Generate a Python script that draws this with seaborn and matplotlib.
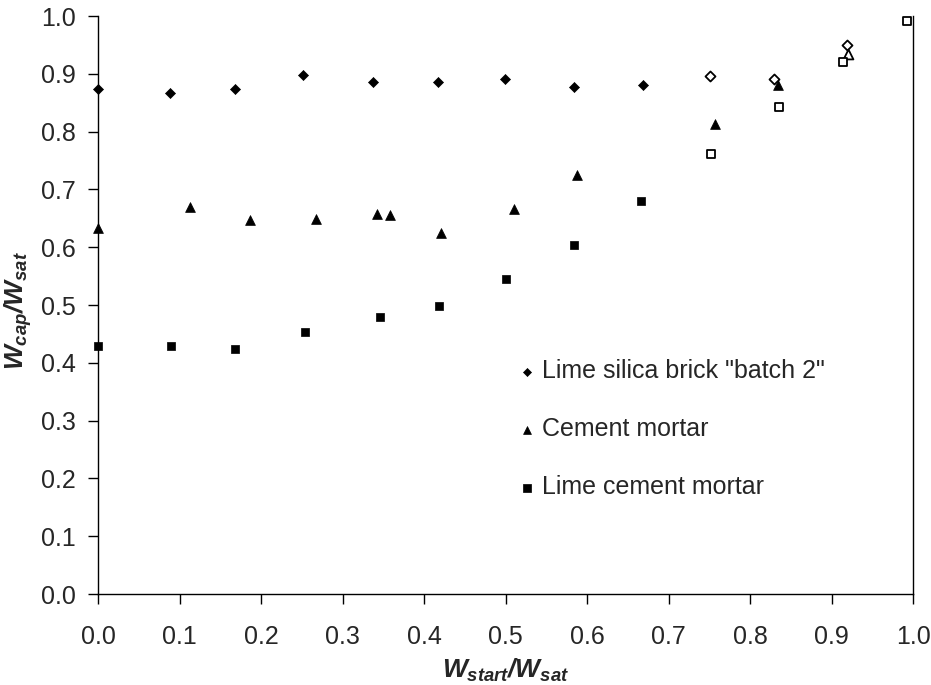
import matplotlib
matplotlib.use("Agg")
import matplotlib.pyplot as plt
import seaborn as sns
import pandas as pd

sns.set_style("ticks")
plt.rcParams["font.family"] = ["Liberation Sans", "DejaVu Sans"]
plt.rcParams["mathtext.fontset"] = "custom"
plt.rcParams["mathtext.rm"] = "Liberation Sans:bold:italic"
plt.rcParams["mathtext.it"] = "Liberation Sans:bold:italic"
plt.rcParams["mathtext.bf"] = "Liberation Sans:bold:italic"

lsb_label = 'Lime silica brick "batch 2"'
cm_label = "Cement mortar"
lcm_label = "Lime cement mortar"

# filled points
x_lsb = [0.000, 0.088, 0.168, 0.251, 0.337, 0.417, 0.499, 0.584, 0.669]
y_lsb = [0.873, 0.867, 0.873, 0.898, 0.885, 0.885, 0.891, 0.878, 0.881]
x_cm = [0.000, 0.113, 0.186, 0.267, 0.342, 0.358, 0.421, 0.510, 0.588, 0.757, 0.834]
y_cm = [0.633, 0.669, 0.647, 0.649, 0.657, 0.655, 0.625, 0.666, 0.725, 0.813, 0.881]
x_lcm = [0.000, 0.089, 0.168, 0.254, 0.346, 0.418, 0.501, 0.584, 0.666]
y_lcm = [0.429, 0.429, 0.424, 0.454, 0.479, 0.498, 0.545, 0.604, 0.680]

# open points
x_lsb_open = [0.751, 0.829, 0.919]
y_lsb_open = [0.896, 0.891, 0.950]
x_cm_open = [0.920]
y_cm_open = [0.935]
x_lcm_open = [0.752, 0.836, 0.914, 0.993]
y_lcm_open = [0.762, 0.842, 0.920, 0.992]

x_ticks = [0.0, 0.1, 0.2, 0.3, 0.4, 0.5, 0.6, 0.7, 0.8, 0.9, 1.0]
y_ticks = [0.0, 0.1, 0.2, 0.3, 0.4, 0.5, 0.6, 0.7, 0.8, 0.9, 1.0]

series = [
    (lsb_label, x_lsb, y_lsb, x_lsb_open, y_lsb_open, "D", 26),
    (cm_label, x_cm, y_cm, x_cm_open, y_cm_open, "^", 50),
    (lcm_label, x_lcm, y_lcm, x_lcm_open, y_lcm_open, "s", 40),
]

fig = plt.figure(figsize=(9.31, 6.85), dpi=100)
ax = fig.add_axes([0.1053, 0.1328, 0.8754, 0.8438])

for label, xf, yf, xo, yo, mk, sz in series:
    df = pd.DataFrame({"x": xf, "y": yf})
    sns.scatterplot(data=df, x="x", y="y", marker=mk, s=sz, color="black",
                    edgecolor="black", linewidth=0.5, label=label, ax=ax,
                    clip_on=False, zorder=3)
    dfo = pd.DataFrame({"x": xo, "y": yo})
    sns.scatterplot(data=dfo, x="x", y="y", marker=mk, s=sz, facecolor="white",
                    edgecolor="black", linewidth=1.3, ax=ax, clip_on=False,
                    zorder=3, legend=False)

ax.set_xlim(0, 1)
ax.set_ylim(0, 1)
ax.set_xticks(x_ticks)
ax.set_yticks(y_ticks)
ax.set_xticklabels([f"{t:.1f}" for t in x_ticks])
ax.set_yticklabels([f"{t:.1f}" for t in y_ticks])
ax.tick_params(axis="both", labelsize=18, length=7, width=1, color="black",
               direction="out")
ax.tick_params(axis="x", pad=15)
ax.tick_params(axis="y", pad=9)

ax.spines["top"].set_visible(False)
for side in ["left", "bottom", "right"]:
    ax.spines[side].set_color("black")
    ax.spines[side].set_linewidth(1)

ax.set_xlabel(r"$W_{start}/W_{sat}$", fontsize=19)
ax.set_ylabel(r"$W_{cap}/W_{sat}$", fontsize=19)
ax.xaxis.set_label_coords(0.5, -0.108)
ax.yaxis.set_label_coords(-0.079, 0.49)

ax.legend(loc="upper left", bbox_to_anchor=(0.49, 0.445), frameon=False,
          fontsize=18, handlelength=0.6, handletextpad=0.3,
          labelspacing=1.36, markerscale=0.8)

fig.savefig("out.png", dpi=100)
